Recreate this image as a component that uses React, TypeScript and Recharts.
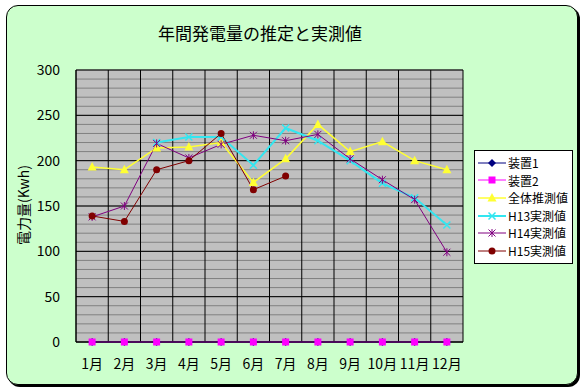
import { CartesianGrid, Line, LineChart, XAxis, YAxis } from "recharts";

const months = ["1月", "2月", "3月", "4月", "5月", "6月", "7月", "8月", "9月", "10月", "11月", "12月"];
const device1 = [0, 0, 0, 0, 0, 0, 0, 0, 0, 0, 0, 0];
const device2 = [0, 0, 0, 0, 0, 0, 0, 0, 0, 0, 0, 0];
const estimate = [193, 190, 214, 215, 220, 176, 202, 240, 210, 221, 200, 190];
const h13 = [null, null, 220, 226, 226, 195, 236, 222, 200, 175, 159, 129];
const h14 = [138, 150, 219, 203, 218, 228, 222, 229, 202, 179, 157, 99];
const h15 = [139, 133, 190, 200, 230, 168, 183, null, null, null, null, null];

const yMax = 300;
const majorTicks = [0, 50, 100, 150, 200, 250, 300];
const minorStep = 10;

const data = months.map((month, i) => ({
  month,
  d1: device1[i],
  d2: device2[i],
  est: estimate[i],
  h13: h13[i],
  h14: h14[i],
  h15: h15[i],
}));

type Shape = "diamond" | "square" | "triangle" | "x" | "star" | "circle";

const series: { key: string; name: string; color: string; shape: Shape; width: number }[] = [
  { key: "d1", name: "装置1", color: "#000080", shape: "diamond", width: 1 },
  { key: "d2", name: "装置2", color: "#FF00FF", shape: "square", width: 1 },
  { key: "est", name: "全体推測値", color: "#FFFF33", shape: "triangle", width: 1.5 },
  { key: "h13", name: "H13実測値", color: "#33E6F0", shape: "x", width: 2 },
  { key: "h14", name: "H14実測値", color: "#800080", shape: "star", width: 1 },
  { key: "h15", name: "H15実測値", color: "#800000", shape: "circle", width: 1 },
];

const FONT = '"Noto Sans CJK JP", "Noto Sans", sans-serif';

function Marker({ cx, cy, shape, color }: { cx: number; cy: number; shape: Shape; color: string }) {
  switch (shape) {
    case "diamond":
      return <polygon points={`${cx},${cy - 4} ${cx + 4},${cy} ${cx},${cy + 4} ${cx - 4},${cy}`} fill={color} />;
    case "square":
      return <rect x={cx - 3.5} y={cy - 3.5} width={7} height={7} fill={color} />;
    case "triangle":
      return <polygon points={`${cx},${cy - 5} ${cx + 4.5},${cy + 3.5} ${cx - 4.5},${cy + 3.5}`} fill={color} />;
    case "x":
      return (
        <path d={`M${cx - 3.5},${cy - 3.5}L${cx + 3.5},${cy + 3.5}M${cx + 3.5},${cy - 3.5}L${cx - 3.5},${cy + 3.5}`} stroke={color} strokeWidth={1.5} />
      );
    case "star":
      return (
        <path
          d={`M${cx - 3.5},${cy - 3.5}L${cx + 3.5},${cy + 3.5}M${cx + 3.5},${cy - 3.5}L${cx - 3.5},${cy + 3.5}M${cx},${cy - 4}L${cx},${cy + 4}`}
          stroke={color}
          strokeWidth={1}
        />
      );
    case "circle":
      return <circle cx={cx} cy={cy} r={3.5} fill={color} />;
  }
}

function makeDot(shape: Shape, color: string) {
  return (props: any) => {
    const { cx, cy, index, value } = props;
    if (value == null || cx == null || cy == null) return <g key={index} />;
    return (
      <g key={index}>
        <Marker cx={cx} cy={cy} shape={shape} color={color} />
      </g>
    );
  };
}

// grid lines: month boundaries and every 10 / 50 units on the value axis
const bandLines = ({ offset }: any) =>
  months.map((_, i) => offset.left + (offset.width * i) / months.length).concat(offset.left + offset.width);
const valueLines = (step: number) => ({ offset }: any) => {
  const out: number[] = [];
  for (let v = 0; v <= yMax; v += step) out.push(offset.top + offset.height * (1 - v / yMax));
  return out;
};

function LegendBox() {
  return (
    <div
      style={{
        position: "absolute",
        left: 474,
        top: 150,
        background: "#fff",
        border: "1px solid #000",
        padding: "3px 4px 3px 2px",
        fontFamily: FONT,
        fontSize: 12,
        lineHeight: "17.6px",
        color: "#000",
      }}
    >
      {series.map((s) => (
        <div key={s.key} style={{ display: "flex", alignItems: "center", whiteSpace: "nowrap" }}>
          <svg width={30} height={14} style={{ marginRight: 1 }}>
            <line x1={1} y1={7} x2={29} y2={7} stroke={s.color} strokeWidth={s.width} />
            <Marker cx={15} cy={7} shape={s.shape} color={s.color} />
          </svg>
          <span>{s.name}</span>
        </div>
      ))}
    </div>
  );
}

export default function App() {
  return (
    <div style={{ position: "absolute", left: 0, top: 0, width: 584, height: 392, background: "#fff" }}>
      <div
        style={{
          position: "absolute",
          left: 6,
          top: 5,
          width: 570,
          height: 378,
          background: "#CCFFCC",
          border: "1px solid #000",
          borderRadius: 12,
          boxShadow: "2px 2px 0 #000",
        }}
      />
      <div
        style={{
          position: "absolute",
          left: 0,
          width: 520,
          top: 20,
          textAlign: "center",
          fontFamily: FONT,
          fontSize: 17,
          color: "#000",
        }}
      >
        年間発電量の推定と実測値
      </div>
      <div
        style={{
          position: "absolute",
          left: 13,
          top: 205,
          transform: "translate(-50%, -50%) rotate(-90deg)",
          transformOrigin: "center",
          whiteSpace: "nowrap",
          fontFamily: FONT,
          fontSize: 14,
          color: "#000",
          marginLeft: 10,
        }}
      >
        電力量(Kwh)
      </div>
      <div style={{ position: "absolute", left: 0, top: 0 }}>
        <LineChart width={584} height={392} data={data} margin={{ top: 70, right: 121, left: 0, bottom: 0 }}>
          <CartesianGrid
            fill="#C0C0C0"
            stroke="#808080"
            vertical={false}
            horizontalCoordinatesGenerator={valueLines(minorStep)}
          />
          <CartesianGrid
            stroke="#000"
            fillOpacity={0}
            verticalCoordinatesGenerator={bandLines}
            horizontalCoordinatesGenerator={valueLines(50)}
          />
          <XAxis
            dataKey="month"
            scale="band"
            height={50}
            axisLine={{ stroke: "#000" }}
            tickLine={false}
            tickMargin={11}
            interval={0}
            tick={{ fill: "#000", fontSize: 14, fontFamily: FONT }}
          />
          <YAxis
            width={76}
            domain={[0, yMax]}
            ticks={majorTicks}
            axisLine={{ stroke: "#000" }}
            tickLine={false}
            tickMargin={10}
            tick={{ fill: "#000", fontSize: 14, fontFamily: FONT }}
          />
          {series.map((s) => (
            <Line
              key={s.key}
              dataKey={s.key}
              name={s.name}
              stroke={s.color}
              strokeWidth={s.width}
              type="linear"
              dot={makeDot(s.shape, s.color)}
              activeDot={false}
              connectNulls={false}
              isAnimationActive={false}
            />
          ))}
        </LineChart>
      </div>
      <LegendBox />
    </div>
  );
}
